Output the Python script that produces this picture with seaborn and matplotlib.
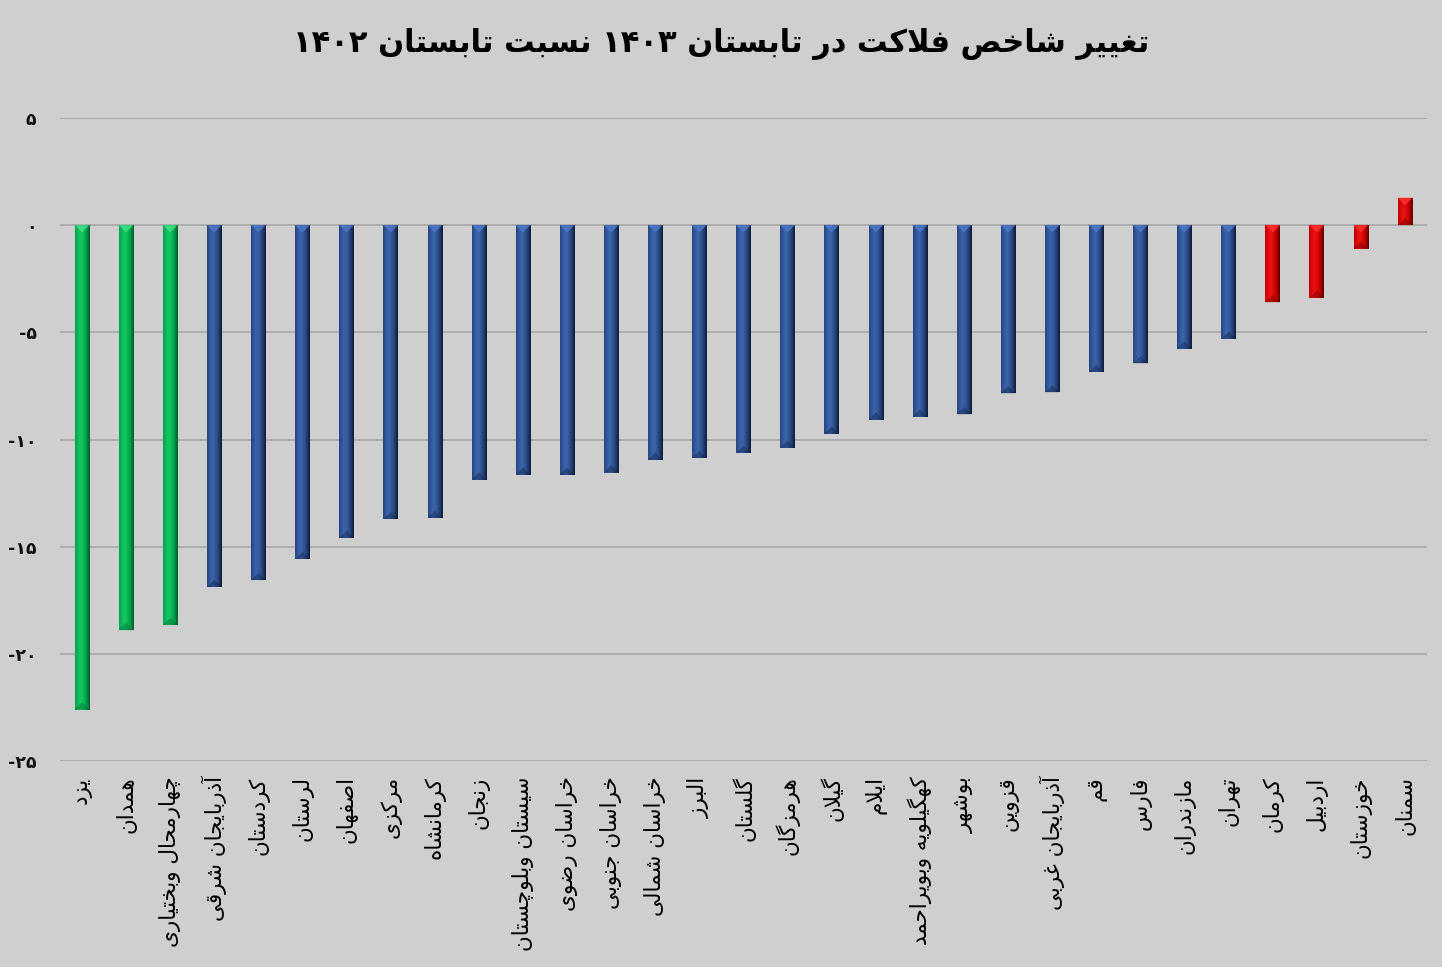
import numpy as np
import pandas as pd
import matplotlib
matplotlib.use("Agg")
import matplotlib.pyplot as plt
import seaborn as sns
from matplotlib.colors import LinearSegmentedColormap
from matplotlib.patches import Polygon

# ---------------- data ----------------
provinces = ['یزد', 'همدان', 'چهارمحال وبختیاری', 'آذربایجان شرقی', 'کردستان', 'لرستان',
             'اصفهان', 'مرکزی', 'کرمانشاه', 'زنجان', 'سیستان وبلوچستان', 'خراسان رضوی',
             'خراسان جنوبی', 'خراسان شمالی', 'البرز', 'گلستان', 'هرمزگان', 'گیلان', 'ایلام',
             'کهگیلویه وبویراحمد', 'بوشهر', 'قزوین', 'آذربایجان غربی', 'قم', 'فارس',
             'مازندران', 'تهران', 'کرمان', 'اردبیل', 'خوزستان', 'سمنان']
values = [-22.6, -18.9, -18.66, -16.88, -16.56, -15.57, -14.59, -13.71, -13.66, -11.88,
          -11.65, -11.65, -11.54, -10.95, -10.86, -10.62, -10.39, -9.73, -9.08, -8.93,
          -8.83, -7.85, -7.80, -6.85, -6.45, -5.76, -5.30, -3.60, -3.38, -1.10, 1.28]
groups = ['g', 'g', 'g', 'b', 'b', 'b', 'b', 'b', 'b', 'b', 'b', 'b', 'b', 'b', 'b', 'b',
          'b', 'b', 'b', 'b', 'b', 'b', 'b', 'b', 'b', 'b', 'b', 'r', 'r', 'r', 'r']
y_ticks = [-25, -20, -15, -10, -5, 0, 5]
y_tick_labels = ['-۲۵', '-۲۰', '-۱۵', '-۱۰', '-۵', '۰', '۵']
title = 'تغییر شاخص فلاکت در تابستان ۱۴۰۳ نسبت تابستان ۱۴۰۲'

# ------------- minimal Arabic/Persian shaping + bidi -------------
DUAL = {
    '\u0628': ('\uFE8F', '\uFE90', '\uFE91', '\uFE92'),
    '\u062A': ('\uFE95', '\uFE96', '\uFE97', '\uFE98'),
    '\u062B': ('\uFE99', '\uFE9A', '\uFE9B', '\uFE9C'),
    '\u062C': ('\uFE9D', '\uFE9E', '\uFE9F', '\uFEA0'),
    '\u062D': ('\uFEA1', '\uFEA2', '\uFEA3', '\uFEA4'),
    '\u062E': ('\uFEA5', '\uFEA6', '\uFEA7', '\uFEA8'),
    '\u0633': ('\uFEB1', '\uFEB2', '\uFEB3', '\uFEB4'),
    '\u0634': ('\uFEB5', '\uFEB6', '\uFEB7', '\uFEB8'),
    '\u0635': ('\uFEB9', '\uFEBA', '\uFEBB', '\uFEBC'),
    '\u0636': ('\uFEBD', '\uFEBE', '\uFEBF', '\uFEC0'),
    '\u0637': ('\uFEC1', '\uFEC2', '\uFEC3', '\uFEC4'),
    '\u0638': ('\uFEC5', '\uFEC6', '\uFEC7', '\uFEC8'),
    '\u0639': ('\uFEC9', '\uFECA', '\uFECB', '\uFECC'),
    '\u063A': ('\uFECD', '\uFECE', '\uFECF', '\uFED0'),
    '\u0641': ('\uFED1', '\uFED2', '\uFED3', '\uFED4'),
    '\u0642': ('\uFED5', '\uFED6', '\uFED7', '\uFED8'),
    '\u0643': ('\uFED9', '\uFEDA', '\uFEDB', '\uFEDC'),
    '\u0644': ('\uFEDD', '\uFEDE', '\uFEDF', '\uFEE0'),
    '\u0645': ('\uFEE1', '\uFEE2', '\uFEE3', '\uFEE4'),
    '\u0646': ('\uFEE5', '\uFEE6', '\uFEE7', '\uFEE8'),
    '\u0647': ('\uFEE9', '\uFEEA', '\uFEEB', '\uFEEC'),
    '\u064A': ('\uFEF1', '\uFEF2', '\uFEF3', '\uFEF4'),
    '\u0626': ('\uFE89', '\uFE8A', '\uFE8B', '\uFE8C'),
    '\u067E': ('\uFB56', '\uFB57', '\uFB58', '\uFB59'),
    '\u0686': ('\uFB7A', '\uFB7B', '\uFB7C', '\uFB7D'),
    '\u06A9': ('\uFB8E', '\uFB8F', '\uFB90', '\uFB91'),
    '\u06AF': ('\uFB92', '\uFB93', '\uFB94', '\uFB95'),
    '\u06CC': ('\uFBFC', '\uFBFD', '\uFBFE', '\uFBFF'),
}
RIGHT = {
    '\u0627': ('\uFE8D', '\uFE8E'),
    '\u0622': ('\uFE81', '\uFE82'),
    '\u0623': ('\uFE83', '\uFE84'),
    '\u062F': ('\uFEA9', '\uFEAA'),
    '\u0630': ('\uFEAB', '\uFEAC'),
    '\u0631': ('\uFEAD', '\uFEAE'),
    '\u0632': ('\uFEAF', '\uFEB0'),
    '\u0698': ('\uFB8A', '\uFB8B'),
    '\u0648': ('\uFEED', '\uFEEE'),
    '\u0629': ('\uFE93', '\uFE94'),
}
LAMALEF = {'\u0627': ('\uFEFB', '\uFEFC'), '\u0622': ('\uFEF5', '\uFEF6')}


def shape(text):
    toks = []
    i = 0
    while i < len(text):
        c = text[i]
        if c == '\u0644' and i + 1 < len(text) and text[i + 1] in LAMALEF:
            toks.append(('R', LAMALEF[text[i + 1]]))
            i += 2
            continue
        if c in DUAL:
            toks.append(('D', DUAL[c]))
        elif c in RIGHT:
            toks.append(('R', RIGHT[c]))
        else:
            toks.append(('U', c))
        i += 1
    out = []
    for k, (t, f) in enumerate(toks):
        if t == 'U':
            out.append(f)
            continue
        jp = k > 0 and toks[k - 1][0] == 'D'
        jn = t == 'D' and k + 1 < len(toks) and toks[k + 1][0] in ('D', 'R')
        if t == 'D':
            out.append(f[3] if (jp and jn) else f[1] if jp else f[2] if jn else f[0])
        else:
            out.append(f[1] if jp else f[0])
    return ''.join(out)


def visual(text):
    s = shape(text)
    digits = set('0123456789۰۱۲۳۴۵۶۷۸۹')
    runs = []
    for ch in s:
        isd = ch in digits
        if runs and runs[-1][0] == isd:
            runs[-1][1].append(ch)
        else:
            runs.append([isd, [ch]])
    parts = []
    for isd, chs in reversed(runs):
        parts.append(''.join(chs) if isd else ''.join(reversed(chs)))
    return ''.join(parts)


# ---------------- styling ----------------
BG = '#d0cfcf'
sns.set_theme(style='white')
plt.rcParams['font.family'] = ['DejaVu Sans']
plt.rcParams['axes.unicode_minus'] = False

palette = {'g': ('#00a24c', '#14c463', '#00582a', '#3fe083'),
           'b': ('#27457f', '#3a62aa', '#0c1a36', '#4d78c6'),
           'r': ('#c00000', '#e81010', '#5a0000', '#ff3030')}

df = pd.DataFrame({'province': provinces, 'value': values, 'group': groups})

fig = plt.figure(figsize=(14.42, 9.67), dpi=100, facecolor=BG)
ax = fig.add_axes([60 / 1442, 1 - 761 / 967, 1367 / 1442, (761 - 118) / 967])
ax.set_facecolor(BG)

sns.barplot(data=df, x='province', y='value', hue='group',
            palette={k: v[0] for k, v in palette.items()}, order=provinces,
            hue_order=['g', 'b', 'r'], dodge=False, width=0.33, saturation=1,
            legend=False, ax=ax, zorder=3, linewidth=0, edgecolor='none')

ax.set_ylim(-25, 5)
ax.set_xlim(-0.5, len(provinces) - 0.5)
ax.set_yticks(y_ticks)
ax.set_yticklabels(y_tick_labels, fontsize=12.5, fontweight='bold', color='#111111')
ax.set_xticks(range(len(provinces)))
ax.set_xticklabels([visual(p) for p in provinces], rotation=90, fontsize=15.5,
                   color='black', ha='center', va='top')
ax.tick_params(axis='x', length=0, pad=11)
ax.tick_params(axis='y', length=0, pad=17)
ax.set_xlabel('')
ax.set_ylabel('')
for sp in ax.spines.values():
    sp.set_visible(False)
ax.yaxis.grid(True, color='#a3a3a3', linewidth=1.1)
ax.set_axisbelow(True)

# bevel / cylinder shading derived from the drawn bars
fig.canvas.draw()
px_x = ax.transData.transform((1, 0))[0] - ax.transData.transform((0, 0))[0]
px_y = ax.transData.transform((0, 1))[1] - ax.transData.transform((0, 0))[1]
for patch, grp in zip(ax.patches, groups):
    base, hi, dark, chev = palette[grp]
    patch.set_edgecolor('none')
    patch.set_linewidth(0)
    x0, w = patch.get_x(), patch.get_width()
    y0, h = patch.get_y(), patch.get_height()
    ylo, yhi = min(y0, y0 + h), max(y0, y0 + h)
    cmap = LinearSegmentedColormap.from_list(
        'c', [(0, base), (0.3, hi), (0.45, hi), (0.75, base), (1.0, dark)])
    grad = np.linspace(0, 1, 64).reshape(1, -1)
    im = ax.imshow(grad, cmap=cmap, extent=[x0, x0 + w, ylo, yhi], aspect='auto',
                   zorder=4, interpolation='bicubic')
    im.set_clip_path(patch)
    d = (w * px_x / 2) / px_y
    d = min(d, (yhi - ylo) / 2)
    xc = x0 + w / 2
    ax.add_patch(Polygon([[x0, yhi], [x0 + w, yhi], [xc, yhi - d]], closed=True,
                         facecolor=chev, edgecolor='none', alpha=0.85, zorder=5))
    ax.add_patch(Polygon([[x0, ylo], [x0 + w, ylo], [xc, ylo + d]], closed=True,
                         facecolor=dark, edgecolor='none', alpha=0.35, zorder=5))
ax.set_xlim(-0.5, len(provinces) - 0.5)
ax.set_ylim(-25, 5)

fig.text(0.5, 1 - 44 / 967, visual(title), ha='center', va='center',
         fontsize=22, fontweight='bold', color='black')

fig.savefig('out.png', dpi=100, facecolor=BG)
